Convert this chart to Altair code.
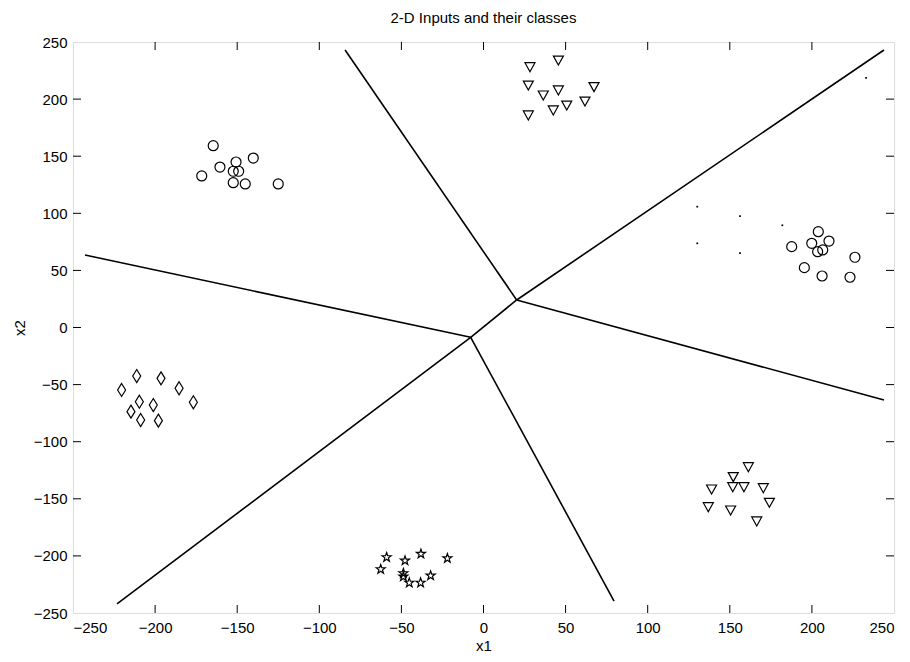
import altair as alt
import pandas as pd

# ---- data ----
c1_x = [-164.6, -160.5, -150.7, -140.2, -171.6, -152.4, -149.1, -152.4, -145.1, -125.0]
c1_y = [159.2, 140.5, 144.9, 148.4, 132.7, 136.8, 136.8, 126.8, 125.7, 125.7]

c2_x = [-211.2, -196.4, -220.4, -185.4, -209.6, -201.1, -176.7, -214.7, -208.8, -198.0]
c2_y = [-42.5, -44.5, -54.7, -53.2, -65.0, -67.9, -65.5, -73.7, -81.0, -81.6]

c3_x = [28.3, 45.6, 27.3, 36.4, 45.6, 67.3, 61.8, 50.7, 42.5, 27.3]
c3_y = [228.4, 234.2, 212.3, 203.6, 208.0, 210.9, 198.3, 194.8, 190.5, 186.1]

c4_x = [203.9, 187.7, 199.9, 210.4, 203.5, 206.6, 226.2, 195.4, 206.2, 223.2]
c4_y = [83.9, 70.8, 73.7, 75.7, 66.4, 67.9, 61.5, 52.4, 45.1, 44.0]

c5_x = [161.3, 152.1, 138.9, 151.8, 158.6, 170.4, 174.1, 136.9, 150.5, 166.4]
c5_y = [-121.9, -130.6, -141.4, -139.4, -139.4, -140.3, -153.1, -156.9, -159.8, -169.4]

c6_x = [-59.0, -47.8, -38.1, -22.0, -62.6, -48.8, -48.8, -45.2, -38.3, -32.2]
c6_y = [-201.2, -204.2, -198.3, -202.1, -211.7, -215.2, -218.2, -223.5, -223.5, -217.3]

dot_x = [130.2, 156.2, 182.0, 130.2, 156.2, 233.0]
dot_y = [105.8, 97.6, 89.5, 73.7, 65.2, 218.5]

# decision boundary segments (start/end points)
seg_id = ["a", "a", "b", "b", "c", "c", "d", "d", "e", "e", "f", "f", "g", "g"]
seg_x = [-84.3, 20.2, 20.2, 243.9, 20.2, 243.9, 20.2, -7.8, -7.8, -242.7, -7.8, -223.2, -7.8, 79.5]
seg_y = [243.0, 24.1, 24.1, 243.0, 24.1, -63.5, 24.1, -8.6, -8.6, 63.5, -8.6, -242.1, -8.6, -239.5]

tick_vals = [-200, -150, -100, -50, 0, 50, 100, 150, 200]
axis_vals = [-250, -200, -150, -100, -50, 0, 50, 100, 150, 200, 250]

classes = ["c1", "c2", "c3", "c4", "c5", "c6"]
shapes = [
    "circle",
    "M0,-1.3L0.8,0L0,1.3L-0.8,0Z",
    "M-1,-0.8L1,-0.8L0,1Z",
    "circle",
    "M-1,-0.8L1,-0.8L0,1Z",
    "M0,-0.95L0.22,-0.3L0.9,-0.3L0.36,0.12L0.56,0.78L0,0.38L-0.56,0.78L-0.36,0.12L-0.9,-0.3L-0.22,-0.3Z",
]

rows = []
for cls, xs, ys in zip(classes, [c1_x, c2_x, c3_x, c4_x, c5_x, c6_x],
                       [c1_y, c2_y, c3_y, c4_y, c5_y, c6_y]):
    for a, b in zip(xs, ys):
        rows.append({"x1": a, "x2": b, "cls": cls})
pts = pd.DataFrame(rows)
dots = pd.DataFrame({"x1": dot_x, "x2": dot_y})
segs = pd.DataFrame({"seg": seg_id, "x1": seg_x, "x2": seg_y, "order": list(range(len(seg_id)))})
ticks = pd.DataFrame({"v": tick_vals})

W, H = 821, 571
FONT = "Liberation Sans"
FS = 15

xscale = alt.Scale(domain=[-250, 250], nice=False, zero=False)
yscale = alt.Scale(domain=[-250, 250], nice=False, zero=False)

xaxis = alt.Axis(values=axis_vals, grid=False, domain=False, ticks=False, labelPadding=7,
                 labelFont=FONT, labelFontSize=FS, labelColor="black", title="x1",
                 titleFont=FONT, titleFontSize=FS, titleFontWeight="normal", titleColor="black",
                 titlePadding=3)
yaxis = alt.Axis(values=axis_vals, grid=False, domain=False, ticks=False, labelPadding=6,
                 labelFont=FONT, labelFontSize=FS, labelColor="black", title="x2",
                 titleFont=FONT, titleFontSize=FS, titleFontWeight="normal", titleColor="black",
                 titlePadding=6)

lines = alt.Chart(segs).mark_line(color="black", strokeWidth=1.6).encode(
    x=alt.X("x1:Q", scale=xscale, axis=xaxis),
    y=alt.Y("x2:Q", scale=yscale, axis=yaxis),
    detail="seg:N",
    order="order:Q",
)

points = alt.Chart(pts).mark_point(filled=False, color="black", strokeWidth=1.2, size=100, opacity=1).encode(
    x=alt.X("x1:Q", scale=xscale),
    y=alt.Y("x2:Q", scale=yscale),
    shape=alt.Shape("cls:N", scale=alt.Scale(domain=classes, range=shapes), legend=None),
)

dotl = alt.Chart(dots).mark_point(filled=True, color="black", size=3, shape="square", opacity=1).encode(
    x=alt.X("x1:Q", scale=xscale),
    y=alt.Y("x2:Q", scale=yscale),
)

TL = 8
tb = alt.Chart(ticks).mark_rule(color="black", strokeWidth=1).encode(
    x=alt.X("v:Q", scale=xscale), y=alt.value(H), y2=alt.value(H - TL))
tt = alt.Chart(ticks).mark_rule(color="black", strokeWidth=1).encode(
    x=alt.X("v:Q", scale=xscale), y=alt.value(0), y2=alt.value(TL))
tl = alt.Chart(ticks).mark_rule(color="black", strokeWidth=1).encode(
    y=alt.Y("v:Q", scale=yscale), x=alt.value(0), x2=alt.value(TL))
tr = alt.Chart(ticks).mark_rule(color="black", strokeWidth=1).encode(
    y=alt.Y("v:Q", scale=yscale), x=alt.value(W), x2=alt.value(W - TL))

chart = alt.layer(lines, points, dotl, tb, tt, tl, tr).properties(
    width=W, height=H,
    title=alt.Title("2-D Inputs and their classes", font=FONT, fontSize=FS,
                    fontWeight="normal", color="black", anchor="middle", offset=9),
    autosize=alt.AutoSizeParams(type="none"),
    padding={"left": 65, "top": 34, "right": 8, "bottom": 41},
).configure_view(stroke="black", strokeWidth=1.2).configure(background="white")

chart.save("out.html", embed_options={"renderer": "svg", "actions": False})
